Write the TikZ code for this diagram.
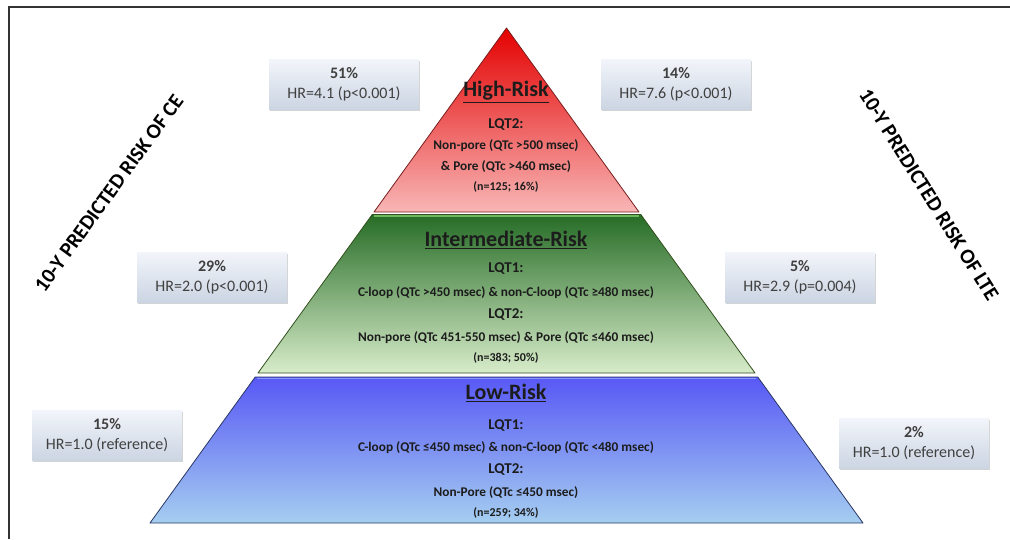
\documentclass[tikz,border=0pt]{standalone}
\usepackage{fontspec}
\setmainfont{Carlito}
\usetikzlibrary{shadows}
\definecolor{redtop}{RGB}{228,0,0}
\definecolor{redbot}{RGB}{248,182,182}
\definecolor{redline}{RGB}{120,30,30}
\definecolor{greentop}{RGB}{38,108,38}
\definecolor{greenbot}{RGB}{216,236,202}
\definecolor{greenline}{RGB}{50,80,30}
\definecolor{greenrim}{RGB}{110,185,95}
\definecolor{bluetop}{RGB}{88,88,245}
\definecolor{bluebot}{RGB}{165,206,240}
\definecolor{blueline}{RGB}{40,55,100}
\definecolor{bluerim}{RGB}{140,150,250}
\definecolor{boxtop}{RGB}{242,245,250}
\definecolor{boxbot}{RGB}{204,213,227}
\definecolor{inktext}{RGB}{28,28,28}
\definecolor{boxtext}{RGB}{64,64,64}
\begin{document}
\begin{tikzpicture}[
    x=1pt, y=-1pt,
    band/.style={line width=0.8pt, line join=round},
    rim/.style={line width=1.2pt},
    head/.style={font=\fontsize{22}{24}\selectfont\bfseries, text=inktext},
    lqt/.style={font=\fontsize{15}{17}\selectfont\bfseries, text=inktext},
    crit/.style={font=\fontsize{13.3}{15}\selectfont\bfseries, text=inktext},
    count/.style={font=\fontsize{12}{14}\selectfont\bfseries, text=inktext},
    statbox/.style={minimum width=150pt, minimum height=50pt, inner sep=2pt,
      top color=boxtop, bottom color=boxbot, align=center, text=boxtext,
      font=\fontsize{16}{20}\selectfont,
      drop shadow={shadow xshift=1pt, shadow yshift=-2pt, opacity=0.35}},
    axislabel/.style={font=\fontsize{21}{24}\selectfont\bfseries, text=black},
  ]
  \useasboundingbox (0,0) rectangle (1010,539);
  % frame
  \draw[line width=2pt, black!80] (1010,7) -- (9,7) -- (9,539);

  % pyramid bands
  \path[band, draw=redline, top color=redtop, bottom color=redbot]
    (506.5,28) -- (639,212) -- (374,212) -- cycle;
  \path[band, draw=greenline, top color=greentop, bottom color=greenbot]
    (372.2,214.5) -- (640.8,214.5) -- (755,373) -- (258,373) -- cycle;
  \draw[rim, greenrim] (374,216) -- (639,216);
  \path[band, draw=blueline, top color=bluetop, bottom color=bluebot]
    (255.2,377) -- (757.8,377) -- (863,523) -- (150,523) -- cycle;
  \draw[rim, bluerim] (257,378.6) -- (756,378.6);

  % high risk
  \node[head]  (hi-head)    at (506,92)  {\underline{High-Risk}};
  \node[lqt]   (hi-lqt2)    at (506,125) {LQT2:};
  \node[crit]  (hi-nonpore) at (506,146) {Non-pore (QTc >500 msec)};
  \node[crit]  (hi-pore)    at (506,167) {\& Pore (QTc >460 msec)};
  \node[count] (hi-n)       at (506,187) {(n=125; 16\%)};

  % intermediate risk
  \node[head]  (mid-head)   at (506,240) {\underline{Intermediate-Risk}};
  \node[lqt]   (mid-lqt1)   at (506,269) {LQT1:};
  \node[crit]  (mid-loop)   at (506,293) {C-loop (QTc >450 msec) \& non-C-loop (QTc ≥480 msec)};
  \node[lqt]   (mid-lqt2)   at (506,315) {LQT2:};
  \node[crit]  (mid-pore)   at (506,338) {Non-pore (QTc 451-550 msec) \& Pore (QTc ≤460 msec)};
  \node[count] (mid-n)      at (506,358) {(n=383; 50\%)};

  % low risk
  \node[head]  (lo-head)    at (506,393) {\underline{Low-Risk}};
  \node[lqt]   (lo-lqt1)    at (506,426) {LQT1:};
  \node[crit]  (lo-loop)    at (506,448) {C-loop (QTc ≤450 msec) \& non-C-loop (QTc <480 msec)};
  \node[lqt]   (lo-lqt2)    at (506,470) {LQT2:};
  \node[crit]  (lo-pore)    at (506,493) {Non-Pore (QTc ≤450 msec)};
  \node[count] (lo-n)       at (506,513) {(n=259; 34\%)};

  % risk of CE (left)
  \node[statbox] (ce-high) at (344,84)  {\textbf{51\%}\\HR=4.1 (p<0.001)};
  \node[statbox] (ce-mid)  at (212,277) {\textbf{29\%}\\HR=2.0 (p<0.001)};
  \node[statbox] (ce-low)  at (107,435) {\textbf{15\%}\\HR=1.0 (reference)};
  \node[axislabel, rotate=54] (ce-label) at (109,193) {10-Y PREDICTED RISK OF CE};

  % risk of LTE (right)
  \node[statbox] (lte-high) at (676,84)  {\textbf{14\%}\\HR=7.6 (p<0.001)};
  \node[statbox] (lte-mid)  at (800,277) {\textbf{5\%}\\HR=2.9 (p=0.004)};
  \node[statbox] (lte-low)  at (914,443) {\textbf{2\%}\\HR=1.0 (reference)};
  \node[axislabel, rotate=-58] (lte-label) at (929,195) {10-Y PREDICTED RISK OF LTE};
\end{tikzpicture}
\end{document}
